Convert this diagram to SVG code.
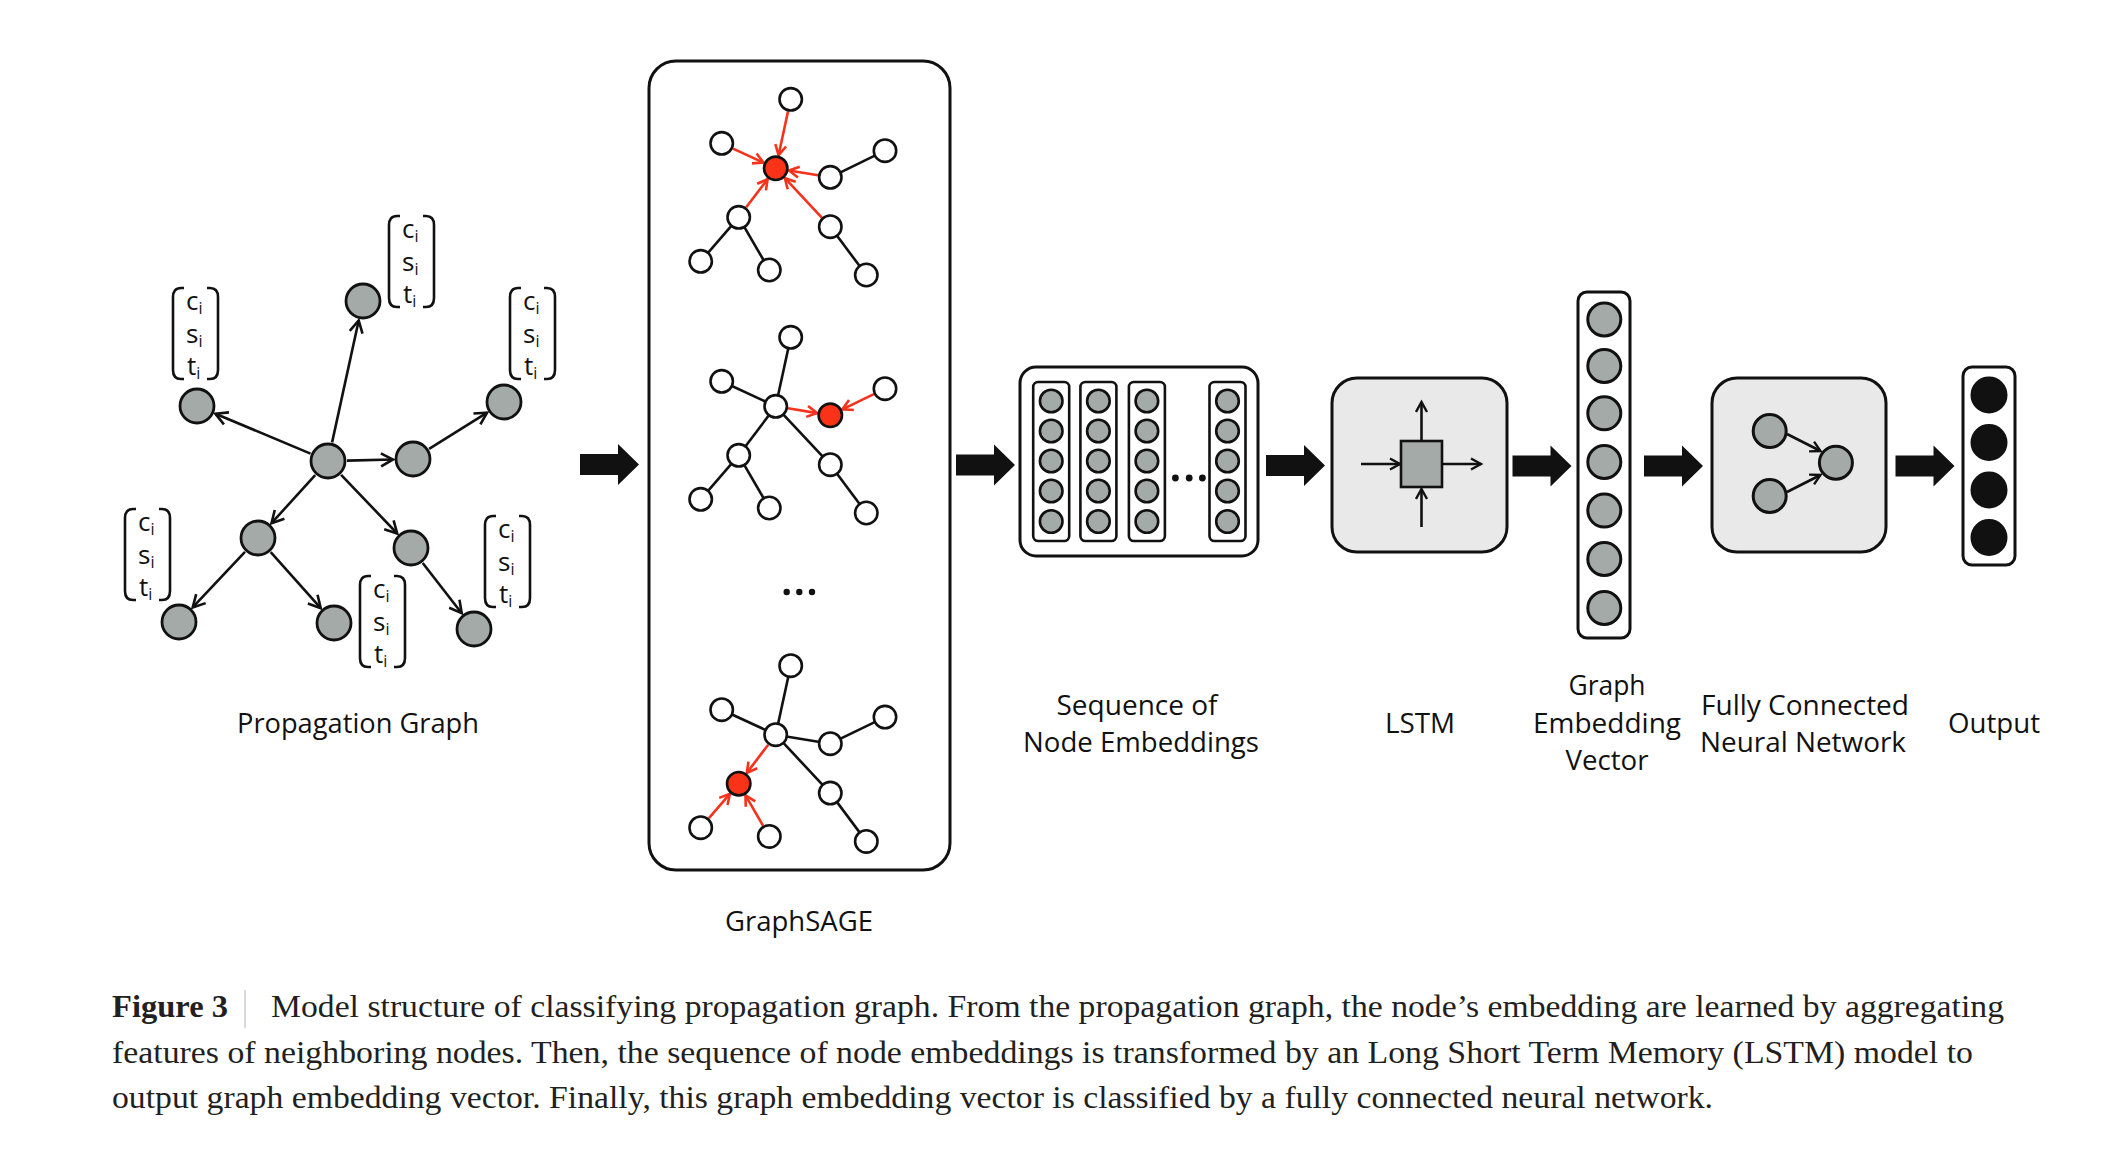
<svg xmlns="http://www.w3.org/2000/svg" xmlns:xlink="http://www.w3.org/1999/xlink" width="2123" height="1154" viewBox="0 0 2123 1154">
<style>
.bg{fill:#ffffff}
.pn{fill:#a3aaa7;stroke:#111;stroke-width:2.8}
.gn{fill:#a3aaa7;stroke:#111;stroke-width:2.6}
.wn{fill:#ffffff;stroke:#111;stroke-width:2.6}
.rn{fill:#fa3218;stroke:#111;stroke-width:2.6}
.bn{fill:#111;stroke:#111;stroke-width:2}
.e{stroke:#111;stroke-width:2.6;fill:none}
.ea{stroke:#111;stroke-width:2.6;fill:none;marker-end:url(#ah)}
.er{stroke:#f5321c;stroke-width:2.6;fill:none;marker-end:url(#ahr)}
.es{stroke:#111;stroke-width:2.6;fill:none;marker-end:url(#ahs)}
.box{fill:#ffffff;stroke:#111;stroke-width:3}
.gbox{fill:#e8e9e8;stroke:#111;stroke-width:3}
.col{fill:#ffffff;stroke:#111;stroke-width:2.6}
.br{fill:none;stroke:#111;stroke-width:2.6}
.vt{font-family:"Open Sans","Noto Sans",sans-serif;font-size:26px;fill:#111}
.sub{font-size:16px}
.lbl{font-family:"Open Sans","Noto Sans",sans-serif;font-size:28px;fill:#111;text-anchor:middle}
.cap{font-family:"Liberation Serif","Times New Roman",serif;font-size:32px;fill:#231f20}
.blk{fill:#111}
</style>
<defs>
<marker id="ah" markerUnits="userSpaceOnUse" markerWidth="18" markerHeight="18" refX="14" refY="8" orient="auto">
<path d="M2,1.5 L14,8 L2,14.5" fill="none" stroke="#111" stroke-width="2.6" stroke-linejoin="miter"/>
</marker>
<marker id="ahr" markerUnits="userSpaceOnUse" markerWidth="16" markerHeight="16" refX="12" refY="7" orient="auto">
<path d="M2,1.5 L12,7 L2,12.5" fill="none" stroke="#f5321c" stroke-width="2.6"/>
</marker>
<marker id="ahs" markerUnits="userSpaceOnUse" markerWidth="16" markerHeight="16" refX="12" refY="7" orient="auto">
<path d="M2,1.5 L12,7 L2,12.5" fill="none" stroke="#111" stroke-width="2.4"/>
</marker>
<g id="vec">
<path class="br" d="M13,1 L10,1 Q2,1 2,10 L2,83 Q2,92 10,92 L13,92"/>
<path class="br" d="M36,1 L39,1 Q47,1 47,10 L47,83 Q47,92 39,92 L36,92"/>
<text class="vt" x="15" y="23">c<tspan class="sub" dy="4">i</tspan></text>
<text class="vt" x="15" y="56">s<tspan class="sub" dy="4">i</tspan></text>
<text class="vt" x="16" y="88">t<tspan class="sub" dy="4">i</tspan></text>
</g>
<path id="barrow" d="M0,-10.5 L38,-10.5 L38,-20.5 L59,0 L38,20.5 L38,10.5 L0,10.5 Z"/>
</defs>
<rect class="bg" x="0" y="0" width="2123" height="1154"/>

<!-- Propagation graph -->
<g id="propagation-graph">
<g id="pg-edges">
<line class="ea" x1="332.1" y1="442.4" x2="358.7" y2="320.5"/>
<line class="ea" x1="310.5" y1="453.6" x2="215.4" y2="413.7"/>
<line class="ea" x1="347" y1="460.6" x2="393" y2="459.5"/>
<line class="ea" x1="429.1" y1="448.9" x2="487.1" y2="412.6"/>
<line class="ea" x1="315.2" y1="475.1" x2="271.5" y2="523.2"/>
<line class="ea" x1="341.1" y1="474.8" x2="397.2" y2="533.5"/>
<line class="ea" x1="245" y1="551.8" x2="192.7" y2="607.4"/>
<line class="ea" x1="270.7" y1="552.2" x2="320.7" y2="608.1"/>
<line class="ea" x1="422.7" y1="563" x2="461.7" y2="613.2"/>
</g>
<g id="pg-center"><circle class="pn" cx="328" cy="461" r="17"/></g>
<g id="pg-top"><circle class="pn" cx="363" cy="301" r="17"/></g>
<g id="pg-left"><circle class="pn" cx="197" cy="406" r="17"/></g>
<g id="pg-right1"><circle class="pn" cx="413" cy="459" r="17"/></g>
<g id="pg-right2"><circle class="pn" cx="504" cy="402" r="17"/></g>
<g id="pg-lowleft"><circle class="pn" cx="258" cy="538" r="17"/></g>
<g id="pg-lowright"><circle class="pn" cx="411" cy="548" r="17"/></g>
<g id="pg-botleft"><circle class="pn" cx="179" cy="622" r="17"/></g>
<g id="pg-botmid"><circle class="pn" cx="334" cy="623" r="17"/></g>
<g id="pg-botright"><circle class="pn" cx="474" cy="629" r="17"/></g>
<g id="pg-vectors">
<use xlink:href="#vec" x="387" y="215"/>
<use xlink:href="#vec" x="171" y="287"/>
<use xlink:href="#vec" x="508" y="287"/>
<use xlink:href="#vec" x="123" y="508"/>
<use xlink:href="#vec" x="358" y="575"/>
<use xlink:href="#vec" x="483" y="515"/>
</g>
<text class="lbl" x="358" y="733" textLength="242" lengthAdjust="spacingAndGlyphs">Propagation Graph</text>
</g>

<!-- Block arrows -->
<g id="connectors">
<use xlink:href="#barrow" class="blk" x="580" y="464.5"/>
<use xlink:href="#barrow" class="blk" x="956" y="465"/>
<use xlink:href="#barrow" class="blk" x="1266" y="465.5"/>
<use xlink:href="#barrow" class="blk" x="1512.5" y="466"/>
<use xlink:href="#barrow" class="blk" x="1644" y="466"/>
<use xlink:href="#barrow" class="blk" x="1895.5" y="466"/>
</g>

<!-- GraphSAGE -->
<g id="graphsage">
<rect class="box" x="649" y="61" width="301" height="809" rx="27"/>
<g id="gs-graph1">
<line class="e" x1="830.3" y1="177.3" x2="885" y2="150.7"/>
<line class="e" x1="738.7" y1="217.3" x2="700.7" y2="261.3"/>
<line class="e" x1="738.7" y1="217.3" x2="769.3" y2="270"/>
<line class="e" x1="830.3" y1="226.7" x2="866.3" y2="275"/>
<line class="er" x1="788" y1="111.5" x2="778.6" y2="155.1"/>
<line class="er" x1="733" y1="148.6" x2="763.4" y2="162.6"/>
<line class="er" x1="818" y1="175.3" x2="789" y2="170.5"/>
<line class="er" x1="746.2" y1="207.3" x2="767.6" y2="179.1"/>
<line class="er" x1="821.8" y1="217.6" x2="784.9" y2="178.2"/>
<circle class="wn" cx="790.7" cy="99.3" r="11.2"/>
<circle class="wn" cx="721.7" cy="143.3" r="11.2"/>
<circle class="rn" cx="775.7" cy="168.3" r="11.7"/>
<circle class="wn" cx="830.3" cy="177.3" r="11.2"/>
<circle class="wn" cx="885" cy="150.7" r="11.2"/>
<circle class="wn" cx="738.7" cy="217.3" r="11.2"/>
<circle class="wn" cx="830.3" cy="226.7" r="11.2"/>
<circle class="wn" cx="700.7" cy="261.3" r="11.2"/>
<circle class="wn" cx="769.3" cy="270" r="11.2"/>
<circle class="wn" cx="866.3" cy="275" r="11.2"/>
</g>
<g id="gs-graph2" transform="translate(0,238)">
<line class="e" x1="790.7" y1="99.3" x2="775.7" y2="168.3"/>
<line class="e" x1="721.7" y1="143.3" x2="775.7" y2="168.3"/>
<line class="e" x1="738.7" y1="217.3" x2="775.7" y2="168.3"/>
<line class="e" x1="830.3" y1="226.7" x2="775.7" y2="168.3"/>
<line class="e" x1="738.7" y1="217.3" x2="700.7" y2="261.3"/>
<line class="e" x1="738.7" y1="217.3" x2="769.3" y2="270"/>
<line class="e" x1="830.3" y1="226.7" x2="866.3" y2="275"/>
<line class="er" x1="788" y1="170.3" x2="817" y2="175.1"/>
<line class="er" x1="873.8" y1="156.2" x2="842.4" y2="171.4"/>
<circle class="wn" cx="790.7" cy="99.3" r="11.2"/>
<circle class="wn" cx="721.7" cy="143.3" r="11.2"/>
<circle class="wn" cx="775.7" cy="168.3" r="11.2"/>
<circle class="rn" cx="830.3" cy="177.3" r="11.7"/>
<circle class="wn" cx="885" cy="150.7" r="11.2"/>
<circle class="wn" cx="738.7" cy="217.3" r="11.2"/>
<circle class="wn" cx="830.3" cy="226.7" r="11.2"/>
<circle class="wn" cx="700.7" cy="261.3" r="11.2"/>
<circle class="wn" cx="769.3" cy="270" r="11.2"/>
<circle class="wn" cx="866.3" cy="275" r="11.2"/>
</g>
<g id="gs-dots">
<circle class="blk" cx="786.7" cy="592" r="3.2"/>
<circle class="blk" cx="799.3" cy="592" r="3.2"/>
<circle class="blk" cx="812" cy="592" r="3.2"/>
</g>
<g id="gs-graph3" transform="translate(0,566.4)">
<line class="e" x1="790.7" y1="99.3" x2="775.7" y2="168.3"/>
<line class="e" x1="721.7" y1="143.3" x2="775.7" y2="168.3"/>
<line class="e" x1="830.3" y1="177.3" x2="775.7" y2="168.3"/>
<line class="e" x1="830.3" y1="177.3" x2="885" y2="150.7"/>
<line class="e" x1="830.3" y1="226.7" x2="775.7" y2="168.3"/>
<line class="e" x1="830.3" y1="226.7" x2="866.3" y2="275"/>
<line class="er" x1="768.2" y1="178.3" x2="746.8" y2="206.5"/>
<line class="er" x1="708.9" y1="251.8" x2="729.9" y2="227.5"/>
<line class="er" x1="763" y1="259.2" x2="745.5" y2="229"/>
<circle class="wn" cx="790.7" cy="99.3" r="11.2"/>
<circle class="wn" cx="721.7" cy="143.3" r="11.2"/>
<circle class="wn" cx="775.7" cy="168.3" r="11.2"/>
<circle class="wn" cx="830.3" cy="177.3" r="11.2"/>
<circle class="wn" cx="885" cy="150.7" r="11.2"/>
<circle class="rn" cx="738.7" cy="217.3" r="11.7"/>
<circle class="wn" cx="830.3" cy="226.7" r="11.2"/>
<circle class="wn" cx="700.7" cy="261.3" r="11.2"/>
<circle class="wn" cx="769.3" cy="270" r="11.2"/>
<circle class="wn" cx="866.3" cy="275" r="11.2"/>
</g>
<text class="lbl" x="799" y="931" textLength="148" lengthAdjust="spacingAndGlyphs">GraphSAGE</text>
</g>

<!-- Sequence of node embeddings -->
<g id="sequence">
<rect class="box" x="1020" y="367" width="238" height="189" rx="16"/>
<g id="seq-col">
<rect class="col" x="1033.2" y="382" width="36" height="159" rx="5"/>
<rect class="col" x="1080.4" y="382" width="36" height="159" rx="5"/>
<rect class="col" x="1128.9" y="382" width="36" height="159" rx="5"/>
<rect class="col" x="1209.5" y="382" width="36" height="159" rx="5"/>
</g>
<g id="seq-nodes">
<circle class="gn" cx="1051.2" cy="401" r="11.3"/><circle class="gn" cx="1051.2" cy="431" r="11.3"/><circle class="gn" cx="1051.2" cy="461" r="11.3"/><circle class="gn" cx="1051.2" cy="491" r="11.3"/><circle class="gn" cx="1051.2" cy="521.5" r="11.3"/>
<circle class="gn" cx="1098.4" cy="401" r="11.3"/><circle class="gn" cx="1098.4" cy="431" r="11.3"/><circle class="gn" cx="1098.4" cy="461" r="11.3"/><circle class="gn" cx="1098.4" cy="491" r="11.3"/><circle class="gn" cx="1098.4" cy="521.5" r="11.3"/>
<circle class="gn" cx="1146.9" cy="401" r="11.3"/><circle class="gn" cx="1146.9" cy="431" r="11.3"/><circle class="gn" cx="1146.9" cy="461" r="11.3"/><circle class="gn" cx="1146.9" cy="491" r="11.3"/><circle class="gn" cx="1146.9" cy="521.5" r="11.3"/>
<circle class="gn" cx="1227.5" cy="401" r="11.3"/><circle class="gn" cx="1227.5" cy="431" r="11.3"/><circle class="gn" cx="1227.5" cy="461" r="11.3"/><circle class="gn" cx="1227.5" cy="491" r="11.3"/><circle class="gn" cx="1227.5" cy="521.5" r="11.3"/>
</g>
<circle class="blk" cx="1175.4" cy="478" r="3.4"/>
<circle class="blk" cx="1189.2" cy="478" r="3.4"/>
<circle class="blk" cx="1202.4" cy="478" r="3.4"/>
<text class="lbl" x="1137" y="715" textLength="161" lengthAdjust="spacingAndGlyphs">Sequence of</text>
<text class="lbl" x="1141" y="752" textLength="236" lengthAdjust="spacingAndGlyphs">Node Embeddings</text>
</g>

<!-- LSTM -->
<g id="lstm">
<rect class="gbox" x="1332" y="378" width="175" height="174" rx="25"/>
<line class="es" x1="1421.5" y1="441" x2="1421.5" y2="402"/>
<line class="es" x1="1421.5" y1="527" x2="1421.5" y2="489"/>
<line class="es" x1="1361" y1="464" x2="1400" y2="464"/>
<line class="es" x1="1442" y1="464" x2="1481" y2="464"/>
<rect class="gn" x="1401" y="441" width="41" height="46"/>
<text class="lbl" x="1420" y="733" textLength="70" lengthAdjust="spacingAndGlyphs">LSTM</text>
</g>

<!-- Graph embedding vector -->
<g id="graph-embedding">
<rect class="box" x="1578" y="292" width="52" height="346" rx="9"/>
<circle class="gn" cx="1604.3" cy="319.5" r="16.5" style="stroke-width:3"/>
<circle class="gn" cx="1604.3" cy="366" r="16.5" style="stroke-width:3"/>
<circle class="gn" cx="1604.3" cy="413.3" r="16.5" style="stroke-width:3"/>
<circle class="gn" cx="1604.3" cy="462" r="16.5" style="stroke-width:3"/>
<circle class="gn" cx="1604.3" cy="510.6" r="16.5" style="stroke-width:3"/>
<circle class="gn" cx="1604.3" cy="559" r="16.5" style="stroke-width:3"/>
<circle class="gn" cx="1604.3" cy="608" r="16.5" style="stroke-width:3"/>
<text class="lbl" x="1607" y="695" textLength="77" lengthAdjust="spacingAndGlyphs">Graph</text>
<text class="lbl" x="1607" y="733" textLength="148" lengthAdjust="spacingAndGlyphs">Embedding</text>
<text class="lbl" x="1607" y="770" textLength="83" lengthAdjust="spacingAndGlyphs">Vector</text>
</g>

<!-- Fully connected NN -->
<g id="fcnn">
<rect class="gbox" x="1712" y="378" width="174" height="174" rx="25"/>
<line class="es" x1="1787" y1="434" x2="1820.5" y2="451"/>
<line class="es" x1="1787" y1="492" x2="1820.5" y2="475"/>
<circle class="gn" cx="1769.7" cy="431" r="16.5" style="stroke-width:3"/>
<circle class="gn" cx="1769.7" cy="496" r="16.5" style="stroke-width:3"/>
<circle class="gn" cx="1835.9" cy="462.7" r="16.5" style="stroke-width:3"/>
<text class="lbl" x="1805" y="715" textLength="208" lengthAdjust="spacingAndGlyphs">Fully Connected</text>
<text class="lbl" x="1803" y="752" textLength="206" lengthAdjust="spacingAndGlyphs">Neural Network</text>
</g>

<!-- Output -->
<g id="output">
<rect class="box" x="1963" y="367" width="52" height="198" rx="9"/>
<circle class="bn" cx="1989" cy="395" r="17.5"/>
<circle class="bn" cx="1989" cy="442.5" r="17.5"/>
<circle class="bn" cx="1989" cy="490" r="17.5"/>
<circle class="bn" cx="1989" cy="537.5" r="17.5"/>
<text class="lbl" x="1994" y="733" textLength="92" lengthAdjust="spacingAndGlyphs">Output</text>
</g>

<!-- Caption -->
<g id="caption">
<text class="cap" x="112" y="1017" font-weight="bold" textLength="116" lengthAdjust="spacingAndGlyphs">Figure 3</text>
<line x1="245" y1="990" x2="245" y2="1028" stroke="#cccccc" stroke-width="1.5"/>
<text class="cap" x="271" y="1017" textLength="1733" lengthAdjust="spacingAndGlyphs">Model structure of classifying propagation graph. From the propagation graph, the node’s embedding are learned by aggregating</text>
<text class="cap" x="112" y="1063" textLength="1861" lengthAdjust="spacingAndGlyphs">features of neighboring nodes. Then, the sequence of node embeddings is transformed by an Long Short Term Memory (LSTM) model to</text>
<text class="cap" x="112" y="1108" textLength="1601" lengthAdjust="spacingAndGlyphs">output graph embedding vector. Finally, this graph embedding vector is classified by a fully connected neural network.</text>
</g>
</svg>
